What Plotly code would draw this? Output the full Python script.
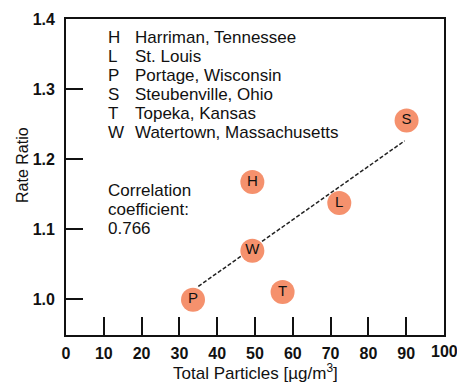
import plotly.graph_objects as go

# Data
letters = ["H", "L", "P", "S", "T", "W"]
cities = ["Harriman, Tennessee", "St. Louis", "Portage, Wisconsin",
          "Steubenville, Ohio", "Topeka, Kansas", "Watertown, Massachusetts"]
particles = [49.3, 72.3, 33.6, 90.1, 57.3, 49.3]
rate_ratio = [1.167, 1.137, 0.999, 1.255, 1.010, 1.069]
fit_x = [35.0, 89.6]
fit_y = [1.018, 1.226]
corr_lines = ["Correlation", "coefficient:", "0.766"]
x_ticks = [0, 10, 20, 30, 40, 50, 60, 70, 80, 90, 100]
y_ticks = [1.0, 1.1, 1.2, 1.3, 1.4]

W, H = 457, 385
ml, mr, mt, mb = 66, 11, 13, 50
pw, ph = W - ml - mr, H - mt - mb

FONT = "Liberation Sans, Arial, sans-serif"
INK = "#111111"

fig = go.Figure()
fig.add_trace(go.Scatter(
    x=fit_x, y=fit_y, mode="lines",
    line=dict(color="#222222", width=1.5, dash="4px,2px"),
    hoverinfo="skip", showlegend=False))
fig.add_trace(go.Scatter(
    x=particles, y=rate_ratio, mode="markers+text", text=letters,
    textposition="middle center",
    textfont=dict(family=FONT, size=15, color=INK),
    marker=dict(size=24, color="#F5916D", line=dict(width=0)),
    showlegend=False))

def px_x(p):
    return (p - ml) / pw

def px_y(p):
    return 1 - (p - mt) / ph

annotations = []
row_y = [31.7, 50.9, 70.3, 89.8, 109.2, 128.8]
for i, (l, c) in enumerate(zip(letters, cities)):
    annotations.append(dict(x=px_x(106), y=px_y(row_y[i]), xref="paper", yref="paper",
                            text=l, showarrow=False, xanchor="left", yanchor="middle",
                            font=dict(family=FONT, size=17, color=INK)))
    annotations.append(dict(x=px_x(133), y=px_y(row_y[i]), xref="paper", yref="paper",
                            text=c, showarrow=False, xanchor="left", yanchor="middle",
                            font=dict(family=FONT, size=17, color=INK)))
corr_y = [187.5, 207.0, 226.5]
for t, yy in zip(corr_lines, corr_y):
    annotations.append(dict(x=px_x(106), y=px_y(yy), xref="paper", yref="paper",
                            text=t, showarrow=False, xanchor="left", yanchor="middle",
                            font=dict(family=FONT, size=17, color=INK)))
annotations.append(dict(x=px_x(23), y=px_y(161.5), xref="paper", yref="paper",
                        text="Rate Ratio", textangle=-90, showarrow=False,
                        xanchor="center", yanchor="middle",
                        font=dict(family=FONT, size=16, color=INK)))
annotations.append(dict(x=px_x(257), y=px_y(373), xref="paper", yref="paper",
                        text="Total Particles [µg/m<sup>3</sup>]", showarrow=False,
                        xanchor="center", yanchor="middle",
                        font=dict(family=FONT, size=17, color=INK)))
# last x tick label, which runs past the right edge of the picture
annotations.append(dict(x=x_ticks[-1], y=px_y(352), xref="x", yref="paper",
                        text=str(x_ticks[-1]), showarrow=False,
                        xanchor="center", yanchor="middle",
                        font=dict(family=FONT, size=16, color=INK, weight="bold")))

fig.update_layout(
    width=W, height=H,
    margin=dict(l=ml, r=mr, t=mt, b=mb, pad=0),
    paper_bgcolor="white", plot_bgcolor="white",
    annotations=annotations,
    xaxis=dict(range=[0, 100], tickvals=x_ticks[:-1], ticktext=[str(v) for v in x_ticks[:-1]],
               ticks="inside", ticklen=18, tickwidth=1.6, tickcolor=INK,
               showline=True, linecolor=INK, linewidth=1.8, mirror=True,
               showgrid=False, zeroline=False, ticklabelstandoff=3,
               tickfont=dict(family=FONT, size=16, color=INK, weight="bold")),
    yaxis=dict(range=[0.9485, 1.4], tickvals=y_ticks, ticktext=["1.0", "1.1", "1.2", "1.3", "1.4"],
               ticks="inside", ticklen=17, tickwidth=1.6, tickcolor=INK,
               showline=True, linecolor=INK, linewidth=1.8, mirror=True,
               showgrid=False, zeroline=False, ticklabelstandoff=6,
               tickfont=dict(family=FONT, size=16, color=INK, weight="bold")),
)

fig.write_html("out.html")
